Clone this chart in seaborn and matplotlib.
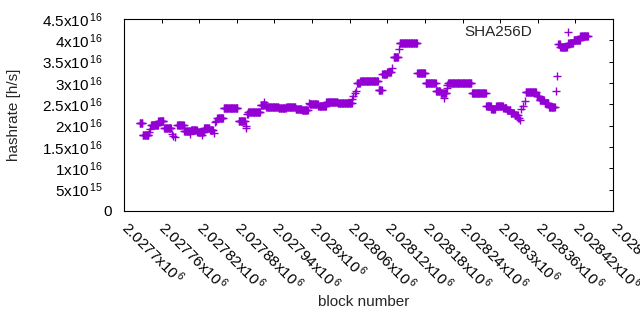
import numpy as np
import pandas as pd
import matplotlib
matplotlib.use("Agg")
import matplotlib.pyplot as plt
import matplotlib.transforms as mtransforms
import seaborn as sns


# -------------------------
# Data
# -------------------------
# runs of consecutive blocks with the same hashrate estimate:
# start = block offset from 2027700, length in blocks, value in 1e16 h/s
base_block = 2027700

run_start = [25, 30, 40, 41, 43, 55, 64, 76, 78, 81, 85, 96, 106, 107, 117, 124, 125, 128,
             137, 143, 145, 147, 149, 159, 183, 194, 195, 196, 198, 218, 223, 224, 227, 247,
             259, 274, 284, 295, 296, 310, 323, 341, 364, 366, 368, 370, 372, 377, 406, 412,
             420, 428, 430, 438, 440, 468, 481, 498, 505, 510, 511, 515, 516, 517, 555, 578,
             586, 594, 605, 611, 617, 623, 629, 631, 633, 636, 639, 641, 658, 663, 671, 678,
             689, 691, 693, 696, 708, 709, 717, 728]
run_len = [5, 10, 1, 1, 12, 9, 12, 1, 1, 1, 11, 10, 1, 10, 7, 1, 3, 9,
           6, 1, 1, 1, 10, 23, 11, 1, 1, 2, 20, 5, 1, 3, 20, 12,
           15, 10, 10, 1, 14, 13, 18, 23, 1, 1, 1, 1, 5, 29, 6, 8,
           7, 1, 8, 1, 28, 13, 17, 7, 5, 1, 4, 1, 1, 38, 23, 8,
           6, 11, 6, 6, 6, 6, 2, 1, 1, 1, 1, 17, 5, 8, 7, 10,
           1, 1, 3, 11, 1, 8, 11, 13]
run_val = [2.07, 1.78, 1.86, 1.92, 2.025, 2.10, 1.95, 1.80, 1.76, 1.73, 2.01, 1.87, 1.80, 1.91,
           1.86, 1.78, 1.86, 1.955, 1.90, 1.83, 2.09, 2.12, 2.185, 2.405, 2.12, 2.00, 1.95, 2.27,
           2.325, 2.48, 2.56, 2.48, 2.44, 2.405, 2.44, 2.40, 2.36, 2.52, 2.51, 2.46, 2.56, 2.535,
           2.62, 2.70, 2.77, 2.82, 3.01, 3.05, 2.84, 3.20, 3.265, 3.36, 3.615, 3.80, 3.93, 3.245,
           3.01, 2.81, 2.76, 2.66, 2.76, 2.88, 2.95, 3.00, 2.76, 2.45, 2.40, 2.47, 2.42, 2.36,
           2.30, 2.24, 2.17, 2.13, 2.40, 2.47, 2.58, 2.78, 2.70, 2.60, 2.53, 2.44, 2.81, 3.16,
           3.92, 3.85, 4.19, 3.945, 4.00, 4.11]

xtick_blocks = [2027700, 2027760, 2027820, 2027880, 2027940, 2028000, 2028060,
                2028120, 2028180, 2028240, 2028300, 2028360, 2028420, 2028480]
xtick_mant = ["2.0277", "2.02776", "2.02782", "2.02788", "2.02794", "2.028", "2.02806",
              "2.02812", "2.02818", "2.02824", "2.0283", "2.02836", "2.02842", "2.02848"]

ytick_vals = [0, 5e15, 1e16, 1.5e16, 2e16, 2.5e16, 3e16, 3.5e16, 4e16, 4.5e16]
ytick_mant = ["0", "5", "1", "1.5", "2", "2.5", "3", "3.5", "4", "4.5"]
ytick_exp = [None, 15, 16, 16, 16, 16, 16, 16, 16, 16]

series_name = "SHA256D"


# -------------------------
# Build per-block table
# -------------------------
blocks = np.concatenate([np.arange(s, s + n) for s, n in zip(run_start, run_len)]) + base_block
hashrate = np.repeat(run_val, run_len) * 1e16

df = pd.DataFrame({"block": blocks, "hashrate": hashrate})


# -------------------------
# Plot
# -------------------------
sns.set_style("white")
plt.rcParams["font.family"] = ["Liberation Sans", "DejaVu Sans"]
plt.rcParams["mathtext.fontset"] = "custom"
plt.rcParams["mathtext.rm"] = "Liberation Sans"
plt.rcParams["mathtext.it"] = "Liberation Sans:italic"
plt.rcParams["mathtext.bf"] = "Liberation Sans:bold"

fig = plt.figure(figsize=(6.4, 3.3), dpi=100)
ax = fig.add_axes([124 / 640, 1 - 211 / 330, 489 / 640, 192 / 330])

sns.scatterplot(
    data=df,
    x="block",
    y="hashrate",
    marker="+",
    s=32,
    color="#9400d3",
    linewidth=1.0,
    ax=ax,
    legend=False
)

ax.set_xlim(xtick_blocks[0], xtick_blocks[-1])
ax.set_ylim(0, 4.5e16)

xlabels = [m + r"x10$^{\,6}$" for m in xtick_mant]
ax.set_xticks(xtick_blocks, labels=xlabels)
ylabels = [m if e is None else m + r"x10$^{\,%d}$" % e for m, e in zip(ytick_mant, ytick_exp)]
ax.set_yticks(ytick_vals, labels=ylabels)

ax.tick_params(axis="both", direction="in", length=3.2, width=0.7, colors="black",
               labelsize=11, top=True, right=True)
ax.tick_params(axis="y", pad=15)
ax.tick_params(axis="x", pad=7)

# rotated labels start right at the tick, like gnuplot's "rotate by -45"
shift = mtransforms.ScaledTranslation(7 / 100, 3 / 100, fig.dpi_scale_trans)
for lbl in ax.get_xticklabels():
    lbl.set_rotation(-45)
    lbl.set_ha("left")
    lbl.set_va("top")
    lbl.set_rotation_mode("anchor")
    lbl.set_transform(lbl.get_transform() + shift)

# gnuplot puts the plain "0" further right than the others
zero_lbl = ax.get_yticklabels()[0]
zero_lbl.set_transform(zero_lbl.get_transform() +
                       mtransforms.ScaledTranslation(9 / 100, 0, fig.dpi_scale_trans))

for sp in ax.spines.values():
    sp.set_color("black")
    sp.set_linewidth(0.8)

ax.set_xlabel("block number", fontsize=11)
ax.set_ylabel("hashrate [h/s]", fontsize=11)
ax.xaxis.set_label_coords(0.49, -0.44)
ax.yaxis.set_label_coords(-0.21, 0.5)

ax.text(0.834, 0.934, series_name, transform=ax.transAxes, ha="right", va="center",
        fontsize=11)

fig.savefig("out.png", dpi=100)
